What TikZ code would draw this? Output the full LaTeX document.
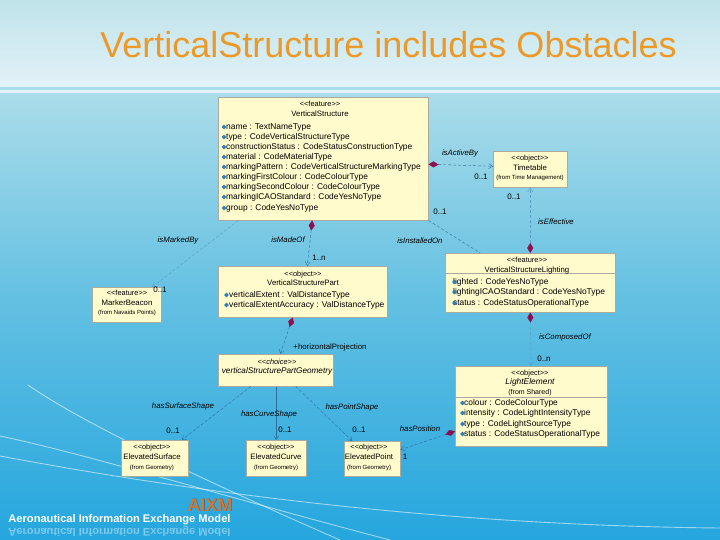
\documentclass[tikz,border=0pt]{standalone}
\usepackage{fontspec}
\setmainfont{Liberation Sans}
\usetikzlibrary{arrows.meta,fadings,shapes.geometric}
\definecolor{titleorange}{HTML}{EB9A2A}
\definecolor{notefill}{HTML}{FFFBCC}
\definecolor{noteedge}{HTML}{AAAA9E}
\definecolor{linkblue}{HTML}{2C6E9C}
\definecolor{linkpale}{HTML}{5A9CC4}
\definecolor{wine}{HTML}{8E0F4F}
\definecolor{attrblue}{HTML}{2F7FB5}
\definecolor{skytop}{HTML}{BFE3EA}
\definecolor{skylow}{HTML}{E2F2F8}
\definecolor{seatop}{HTML}{AADCE9}
\definecolor{seamid}{HTML}{63C0E2}
\definecolor{seabot}{HTML}{25A6DE}
\definecolor{aixmorange}{HTML}{CC7A3A}
\tikzset{
  umlbox/.style={draw=noteedge,fill=notefill,line width=0.5pt,anchor=north west,inner sep=0pt},
  hdr/.style={align=center,font=\fontsize{7.8}{9.6}\selectfont,inner sep=0pt},
  attr/.style={anchor=west,font=\fontsize{8.4}{9}\selectfont,inner sep=0pt},
  icon/.style={fill=attrblue,inner sep=0pt,minimum size=5pt,diamond},
  lbl/.style={font=\fontsize{7.8}{9}\selectfont\itshape,inner sep=0pt},
  mult/.style={font=\fontsize{8}{9}\selectfont,inner sep=0pt},
  link/.style={dash pattern=on 3pt off 2pt,line width=0.4pt,color=linkblue},
  has/.style={link,{Diamond[color=wine,fill=wine,length=10pt,width=6pt]}-{Straight Barb[length=4pt,width=5pt]}},
  linkto/.style={link,-{Straight Barb[length=4pt,width=5pt]}},
  pale/.style={color=linkpale},
  swoosh/.style={white,line width=0.9pt,opacity=0.55}
}
\newcommand{\stereo}[1]{{\fontsize{7.4}{9.6}\selectfont <{}<#1>{}>}}
\newcommand{\origin}[1]{{\fontsize{6}{9.6}\selectfont (from #1)}}
\begin{document}
\begin{tikzpicture}[x=1pt,y=-1pt]
\useasboundingbox (0,0) rectangle (720,540);
% background
\fill[top color=skytop,bottom color=skylow] (0,0) rectangle (720,87);
\fill[color=seatop] (0,87) rectangle (720,90);
\fill[color=skylow] (0,90) rectangle (720,94);
\fill[top color=seatop,bottom color=seamid] (0,94) rectangle (720,300);
\fill[top color=seamid,bottom color=seabot] (0,300) rectangle (720,540);
\draw[swoosh] (28,385) .. controls (75,418) and (180,470) .. (340,540);
\draw[swoosh] (0,436) .. controls (90,455) and (200,490) .. (390,540);
\draw[swoosh] (0,456) .. controls (140,482) and (400,525) .. (720,528);

\node[font=\fontsize{36}{38}\selectfont,color=titleorange,inner sep=0pt] (title) at (388.5,45) {VerticalStructure includes Obstacles};

% classes
\node[umlbox,minimum width=210pt,minimum height=123pt] (vs) at (218,97) {};
\node[umlbox,minimum width=74pt,minimum height=36pt] (tt) at (493,151) {};
\node[umlbox,minimum width=170pt,minimum height=59pt] (vsl) at (445,253) {};
\node[umlbox,minimum width=69pt,minimum height=35pt] (mb) at (92,287) {};
\node[umlbox,minimum width=169pt,minimum height=51pt] (vsp) at (218,266) {};
\node[umlbox,minimum width=115pt,minimum height=32pt] (vspg) at (218,354) {};
\node[umlbox,minimum width=152pt,minimum height=80pt] (le) at (455,366) {};
\node[umlbox,minimum width=67pt,minimum height=36pt] (es) at (121,440) {};
\node[umlbox,minimum width=60pt,minimum height=36pt] (ec) at (246,440) {};
\node[umlbox,minimum width=56pt,minimum height=35pt] (ep) at (344,441) {};
\draw[noteedge,line width=0.5pt] (vsl.west |- 0,273) -- (vsl.east |- 0,273);
\draw[noteedge,line width=0.5pt] (le.west |- 0,397) -- (le.east |- 0,397);

% class headers
\node[hdr] (vsh) at (320,109) {\stereo{feature}\\VerticalStructure};
\node[hdr] (tth) at (530,168) {\stereo{object}\\Timetable\\\origin{Time Management}};
\node[hdr] (vslh) at (527,265.5) {\stereo{feature}\\VerticalStructureLighting};
\node[hdr] (mbh) at (127,303) {\stereo{feature}\\MarkerBeacon\\\origin{Navaids Points}};
\node[hdr] (vsph) at (303,278.5) {\stereo{object}\\VerticalStructurePart};
\node[hdr,font=\fontsize{8.2}{9.6}\selectfont\itshape] (vspgh) at (277,367) {\stereo{choice}\\verticalStructurePartGeometry};
\node[hdr] (leh) at (530,383) {\stereo{object}\\{\fontsize{8.4}{9.6}\selectfont\itshape LightElement}\\{\fontsize{7}{9.6}\selectfont (from Shared)}};
\node[hdr] (esh) at (152,457.5) {\stereo{object}\\ElevatedSurface\\\origin{Geometry}};
\node[hdr] (ech) at (276,457.5) {\stereo{object}\\ElevatedCurve\\\origin{Geometry}};
\node[hdr] (eph) at (369,457.5) {\stereo{object}\\ElevatedPoint\\\origin{Geometry}};

% attributes
\foreach \y/\t in {127/name : TextNameType,137/type : CodeVerticalStructureType,147/constructionStatus : CodeStatusConstructionType,157/material : CodeMaterialType,167/markingPattern : CodeVerticalStructureMarkingType,177/markingFirstColour : CodeColourType,187/markingSecondColour : CodeColourType,197/markingICAOStandard : CodeYesNoType,208/group : CodeYesNoType} {
  \node[attr] (vsa\y) at (226,\y) {\t};
  \node[icon] (vsi\y) at (224,\y) {};
}
\foreach \y/\t in {282/lighted : CodeYesNoType,292/lightingICAOStandard : CodeYesNoType,303/status : CodeStatusOperationalType} {
  \node[attr] (vsla\y) at (453,\y) {\t};
  \node[icon] (vsli\y) at (454.5,\y) {};
}
\foreach \y/\t in {295/verticalExtent : ValDistanceType,305/verticalExtentAccuracy : ValDistanceType} {
  \node[attr] (vspa\y) at (229,\y) {\t};
  \node[icon] (vspi\y) at (226.5,\y) {};
}
\foreach \y/\t in {403/colour : CodeColourType,413/intensity : CodeLightIntensityType,424/type : CodeLightSourceType,434/status : CodeStatusOperationalType} {
  \node[attr] (lea\y) at (464,\y) {\t};
  \node[icon] (lei\y) at (462.5,\y) {};
}

% links
\draw[has] ([yshift=-5.5pt]vs.east) -- ([yshift=3pt]tt.west);
\draw[has,pale] (vsl.north) -- (tt.south);
\draw[link] (vs.south east) -- ([xshift=-50pt]vsl.north);
\draw[linkto,pale] ([xshift=-85pt]vs.south) -- ([xshift=25.5pt]mb.north);
\draw[has] ([xshift=-11pt]vs.south) -- ([xshift=4.5pt]vsp.north);
\draw[has] ([xshift=-10pt]vsp.south) -- ([xshift=4.5pt]vspg.north);
\draw[linkto] ([xshift=-25pt]vspg.south) -- ([xshift=27pt]es.north);
\draw[linkto,solid] (vspg.south -| ec.north) -- (ec.north);
\draw[linkto] ([xshift=20pt]vspg.south) -- ([xshift=-20pt]ep.north);
\draw[has,pale] (vsl.south) -- (le.north);
\draw[has] ([yshift=-25pt]le.west) -- ([yshift=9pt]ep.east);

% link labels
\node[lbl] (l1) at (460,153) {isActiveBy};
\node[lbl] (l2) at (556,222) {isEffective};
\node[lbl] (l3) at (420,241) {isInstalledOn};
\node[lbl] (l4) at (178,240) {isMarkedBy};
\node[lbl] (l5) at (288,240) {isMadeOf};
\node[lbl,font=\fontsize{7.8}{9}\selectfont] (l6) at (330,347) {+horizontalProjection};
\node[lbl] (l7) at (183,406) {hasSurfaceShape};
\node[lbl] (l8) at (269,414) {hasCurveShape};
\node[lbl] (l9) at (352,407) {hasPointShape};
\node[lbl] (l10) at (420,429) {hasPosition};
\node[lbl] (l11) at (565,337) {isComposedOf};

% multiplicities
\foreach \n/\x/\y/\t in {m1/481/177/0..1,m2/514/197/0..1,m3/440/212/0..1,m4/319/258/1..n,m5/160/290/0..1,m6/173/431/0..1,m7/285/430/0..1,m8/359/430/0..1,m9/405/457/1,m10/544/359/0..n}
  \node[mult] (\n) at (\x,\y) {\t};

% logo
\node[font=\fontsize{18}{20}\bfseries\selectfont,color=gray!70!black,inner sep=0pt] (aixms) at (210.7,505.7) {AIXM};
\node[font=\fontsize{18}{20}\bfseries\selectfont,color=aixmorange,inner sep=0pt] (aixm) at (210,505) {AIXM};
\node[font=\fontsize{11.1}{12}\bfseries\selectfont,color=white,inner sep=0pt] (model) at (119.5,520) {Aeronautical Information Exchange Model};
\node[font=\fontsize{11.1}{12}\bfseries\selectfont,color=white,opacity=0.4,inner sep=0pt,yscale=-1,transform shape] (modelr) at (119.5,531) {Aeronautical Information Exchange Model};
\end{tikzpicture}
\end{document}
